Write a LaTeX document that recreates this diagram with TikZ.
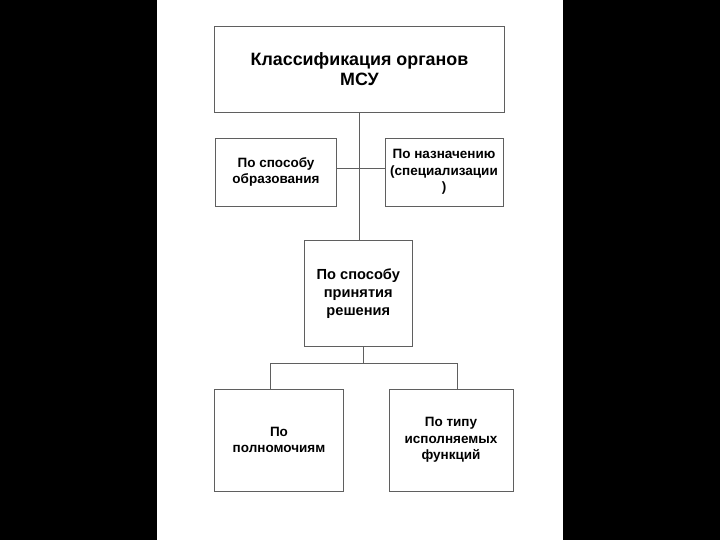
\documentclass[tikz,border=0pt]{standalone}
\usepackage{fontspec}
\setmainfont{Liberation Sans}
\usepackage{xcolor}
\usepackage{tikz}
\definecolor{frame}{RGB}{95,95,95}

\begin{document}
\begin{tikzpicture}[x=0.025cm,y=-0.025cm,
        class node/.style={rectangle,draw=frame,line width=0.7pt,align=center,inner sep=1pt,
          font=\bfseries\fontsize{9.6}{11.8}\selectfont},
        link edge/.style={draw=frame,line width=0.7pt}
      ]
      % page: black margins, white sheet
      \fill[black] (0,0) rectangle (720,540);
      \fill[white] (157,0) rectangle (563,540);

      \node[class node,minimum width=7.225cm,minimum height=2.125cm,
        font=\bfseries\fontsize{12.7}{14.2}\selectfont] (root) at (359.5,69.5)
        {Классификация органов\\МСУ};
      \node[class node,minimum width=3.0cm,minimum height=1.7cm] (form) at (276,172)
        {По способу\\образования};
      \node[class node,minimum width=2.95cm,minimum height=1.7cm] (purpose) at (444,172)
        {По назначению\\(специализации\\)};
      \node[class node,minimum width=2.7cm,minimum height=2.65cm,
        font=\bfseries\fontsize{10.4}{12.8}\selectfont] (decision) at (358.3,293.3)
        {По способу\\принятия\\решения};
      \node[class node,minimum width=3.2cm,minimum height=2.55cm] (power) at (279,440)
        {По\\полномочиям};
      \node[class node,minimum width=3.1cm,minimum height=2.55cm] (func) at (451,440)
        {По типу\\исполняемых\\функций};

      % trunk and the cross bar
      \coordinate (trunk) at (359.3,168);
      \path[link edge]
        (trunk |- root.south) edge (trunk |- decision.north)
        (trunk -| form.east) edge (trunk -| purpose.west);

      % fork below
      \coordinate (fork) at (363,363);
      \coordinate (forkl) at (270,363);
      \coordinate (forkr) at (457,363);
      \draw[link edge] (fork |- decision.south) -- (fork);
      \draw[link edge] (forkl |- power.north) -- (forkl) -- (forkr) -- (forkr |- func.north);
    \end{tikzpicture}
\end{document}
